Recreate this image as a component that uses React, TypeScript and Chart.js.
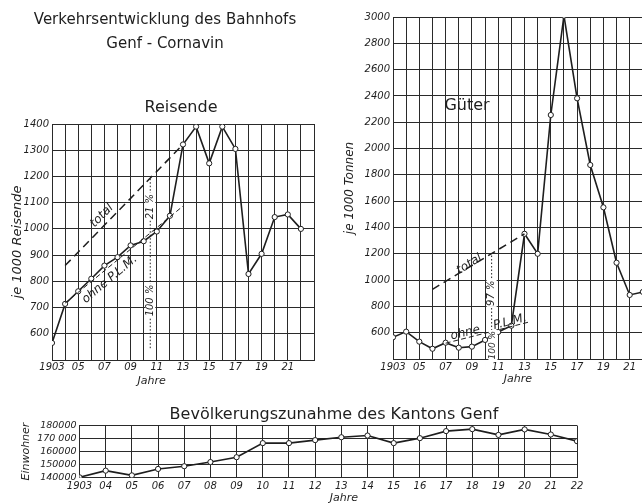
import React, { useEffect, useRef } from 'react';
import { Chart, registerables } from 'chart.js';
Chart.register(...registerables);

// ---------- data ----------
const years = [1903, 1904, 1905, 1906, 1907, 1908, 1909, 1910, 1911, 1912, 1913, 1914, 1915, 1916, 1917, 1918, 1919, 1920, 1921, 1922];

// Reisende (je 1000)
const travelTotal = [565, 714, 762, 810, 860, 892, 937, 953, 990, 1050, 1322, 1390, 1250, 1390, 1305, 828, 905, 1045, 1055, 1000];
const travelTotalTrend = [{ x: 1904, y: 860 }, { x: 1913, y: 1322 }];
const travelOhneTrend = [{ x: 1904, y: 717 }, { x: 1913, y: 1087 }];
const travelMarker = [{ x: 1910.5, y: 545 }, { x: 1910.5, y: 1190 }];
const travelYLabels = ['', '600', '700', '800', '900', '1000', '1100', '1200', '1300', '1400'];
const travelXLabels = ['1903', '', '05', '', '07', '', '09', '', '11', '', '13', '', '15', '', '17', '', '19', '', '21', '', ''];

// Güter (je 1000 Tonnen)
const goodsTotal = [565, 608, 532, 478, 524, 486, 494, 545, 605, 653, 1352, 1200, 2255, 3010, 2382, 1875, 1553, 1132, 887, 910];
const goodsTotalTrend = [{ x: 1906, y: 930 }, { x: 1913, y: 1352 }];
const goodsOhneTrend = [{ x: 1907, y: 520 }, { x: 1913.3, y: 680 }];
const goodsMarker = [{ x: 1910.5, y: 430 }, { x: 1910.5, y: 1200 }];
const goodsYLabels = ['', '600', '800', '1000', '1200', '1400', '1600', '1800', '2000', '2200', '2400', '2600', '2800', '3000'];
const goodsXLabels = ['1903', '', '05', '', '07', '', '09', '', '11', '', '13', '', '15', '', '17', '', '19', '', '21', '', ''];

// Bevölkerung des Kantons Genf
const population = [140300, 145400, 141800, 146700, 148800, 152000, 155700, 166500, 166500, 168800, 171000, 172300, 166500, 170300, 175700, 177200, 172800, 177000, 173100, 168000];
const popYLabels = ['140000', '150000', '160000', '170 000', '180000'];
const popXLabels = ['1903', '04', '05', '06', '07', '08', '09', '10', '11', '12', '13', '14', '15', '16', '17', '18', '19', '20', '21', '22'];

// ---------- styling ----------
const FONT = '"DejaVu Sans", "Liberation Sans", sans-serif';
const INK = '#1e1e1e';
const GRID = '#2a2a2a';

type Note = { text: string; x: number; y?: number; dy?: number; rot?: number; size?: number; italic?: boolean; bg?: boolean };

function notesPlugin(items: Note[]) {
  return {
    id: 'notes',
    afterDatasetsDraw(chart: any) {
      const ctx = chart.ctx;
      const xs = chart.scales.x;
      const ys = chart.scales.y;
      items.forEach((n) => {
        const px = xs.getPixelForValue(n.x);
        const py = n.y !== undefined ? ys.getPixelForValue(n.y) : chart.chartArea.bottom + (n.dy || 0);
        ctx.save();
        ctx.translate(px, py);
        ctx.rotate(((n.rot || 0) * Math.PI) / 180);
        ctx.font = `${n.italic === false ? '' : 'italic '}${n.size || 11}px ${FONT}`;
        ctx.textAlign = 'center';
        ctx.textBaseline = 'middle';
        if (n.bg) {
          const w = ctx.measureText(n.text).width;
          ctx.fillStyle = '#fff';
          ctx.fillRect(-w / 2 - 1, -(n.size || 11) / 2, w + 2, n.size || 11);
        }
        ctx.fillStyle = INK;
        ctx.fillText(n.text, 0, 0);
        ctx.restore();
      });
    },
  };
}

const mainLine = (data: any[]) => ({
  data,
  borderColor: INK,
  borderWidth: 1.6,
  pointRadius: 2.6,
  pointBackgroundColor: '#fff',
  pointBorderColor: INK,
  pointBorderWidth: 1,
  tension: 0,
});
const trend = (data: any[], dash: number[], width: number) => ({
  data,
  borderColor: INK,
  borderWidth: width,
  borderDash: dash,
  pointRadius: 0,
  tension: 0,
});

function xScale(min: number, max: number, labels: string[], height: number, pad: number, size: number) {
  return {
    type: 'linear',
    min,
    max,
    afterFit: (s: any) => { s.height = height; },
    grid: { color: GRID, lineWidth: 1, drawTicks: false },
    border: { color: GRID, width: 1 },
    ticks: {
      stepSize: 1,
      autoSkip: false,
      maxRotation: 0,
      padding: pad,
      color: INK,
      font: { family: FONT, size, style: 'italic' },
      callback: (v: number) => labels[Math.round(v) - min] ?? '',
    },
  };
}

function yScale(min: number, max: number, step: number, labels: string[], width: number, title: string, tsize: number, tpad: number, size: number) {
  return {
    type: 'linear',
    min,
    max,
    afterFit: (s: any) => { s.width = width; },
    grid: { color: GRID, lineWidth: 1, drawTicks: false },
    border: { color: GRID, width: 1 },
    title: { display: true, text: title, color: INK, font: { family: FONT, size: tsize, style: 'italic' }, padding: { top: tpad, bottom: 0 } },
    ticks: {
      stepSize: step,
      autoSkip: false,
      padding: 3,
      color: INK,
      font: { family: FONT, size, style: 'italic' },
      callback: (v: number) => labels[Math.round((v - min) / step)] ?? '',
    },
  };
}

const pts = (vals: number[]) => years.map((yr, i) => ({ x: yr, y: vals[i] }));

function travelConfig(): any {
  return {
    type: 'line',
    data: {
      datasets: [
        trend(travelTotalTrend, [8, 5], 1.5),
        trend(travelOhneTrend, [5, 3], 1),
        trend(travelMarker, [1.5, 2], 1),
        mainLine(pts(travelTotal)),
      ],
    },
    options: {
      animation: false,
      responsive: false,
      layout: { padding: { top: 124, left: 0, right: 16, bottom: 0 } },
      plugins: { legend: { display: false }, tooltip: { enabled: false } },
      scales: {
        x: xScale(1903, 1923, travelXLabels, 40, 1, 10),
        y: yScale(500, 1400, 100, travelYLabels, 52, 'je 1000 Reisende', 13, 10, 10),
      },
    },
    plugins: [
      notesPlugin([
        { text: 'total', x: 1906.8, y: 1050, rot: -46, size: 12 },
        { text: 'ohne P.L.M.', x: 1907.4, y: 808, rot: -40, size: 12 },
        { text: '21 %', x: 1910.5, y: 1085, rot: -90, size: 10, bg: true },
        { text: '100 %', x: 1910.5, y: 727, rot: -90, size: 10, bg: true },
        { text: 'Jahre', x: 1910.6, dy: 21, size: 11 },
      ]),
    ],
  };
}

function goodsConfig(): any {
  return {
    type: 'line',
    data: {
      datasets: [
        trend(goodsTotalTrend, [8, 5], 1.5),
        trend(goodsOhneTrend, [5, 3], 1),
        trend(goodsMarker, [1.5, 2], 1),
        mainLine(pts(goodsTotal)),
      ],
    },
    options: {
      animation: false,
      responsive: false,
      layout: { padding: { top: 17, left: 0, right: 14, bottom: 0 } },
      plugins: { legend: { display: false }, tooltip: { enabled: false } },
      scales: {
        x: xScale(1903, 1923, goodsXLabels, 41, 2, 10),
        y: yScale(400, 3000, 200, goodsYLabels, 63, 'je 1000 Tonnen', 12, 13, 10),
      },
    },
    plugins: [
      notesPlugin([
        { text: 'total', x: 1908.8, y: 1120, rot: -32, size: 12 },
        { text: 'ohne', x: 1908.5, y: 598, rot: -14, size: 12 },
        { text: 'P.L.M.', x: 1911.9, y: 682, rot: -14, size: 12 },
        { text: '97 %', x: 1910.5, y: 900, rot: -90, size: 10, bg: true },
        { text: '100 %', x: 1910.6, y: 505, rot: -90, size: 9, bg: true },
        { text: 'Jahre', x: 1912.5, dy: 20, size: 11 },
      ]),
    ],
  };
}

function popConfig(): any {
  return {
    type: 'line',
    data: { datasets: [mainLine(pts(population))] },
    options: {
      animation: false,
      responsive: false,
      layout: { padding: { top: 30.5, left: 0, right: 65, bottom: 0 } },
      plugins: { legend: { display: false }, tooltip: { enabled: false } },
      scales: {
        x: xScale(1903, 1922, popXLabels, 25.3, 3, 10),
        y: yScale(140000, 180000, 10000, popYLabels, 79.5, 'Einwohner', 11, 20, 9.5),
      },
    },
    plugins: [notesPlugin([{ text: 'Jahre', x: 1913.1, dy: 20, size: 11 }])],
  };
}

export default function App() {
  const r1 = useRef<HTMLCanvasElement>(null);
  const r2 = useRef<HTMLCanvasElement>(null);
  const r3 = useRef<HTMLCanvasElement>(null);

  useEffect(() => {
    const c1 = new Chart(r1.current as HTMLCanvasElement, travelConfig());
    const c2 = new Chart(r2.current as HTMLCanvasElement, goodsConfig());
    const c3 = new Chart(r3.current as HTMLCanvasElement, popConfig());
    return () => {
      c1.destroy();
      c2.destroy();
      c3.destroy();
    };
  }, []);

  const txt = (s: string, left: number, top: number, width: number, size: number): React.ReactNode => (
    <div
      style={{
        position: 'absolute',
        left,
        top,
        width,
        textAlign: 'center',
        fontSize: size,
        lineHeight: '1',
        color: INK,
        whiteSpace: 'nowrap',
        fontFamily: FONT,
      }}
    >
      {s}
    </div>
  );

  return (
    <div
      style={{
        position: 'fixed',
        left: 0,
        top: 0,
        width: 642,
        height: 503,
        overflow: 'hidden',
        background: '#fff',
      }}
    >
      <canvas ref={r1} width={330} height={400} style={{ position: 'absolute', left: 0, top: 0, width: 330, height: 400 }} />
      <canvas ref={r2} width={340} height={400} style={{ position: 'absolute', left: 330, top: 0, width: 340, height: 400 }} />
      <canvas ref={r3} width={642} height={108} style={{ position: 'absolute', left: 0, top: 395, width: 642, height: 108 }} />
      {txt('Verkehrsentwicklung des Bahnhofs', 0, 12, 330, 15)}
      {txt('Genf - Cornavin', 0, 36, 330, 15)}
      {txt('Reisende', 131, 99, 100, 16)}
      {txt('Güter', 417, 97, 100, 16)}
      {txt('Bevölkerungszunahme des Kantons Genf', 134, 406, 400, 16)}
    </div>
  );
}
